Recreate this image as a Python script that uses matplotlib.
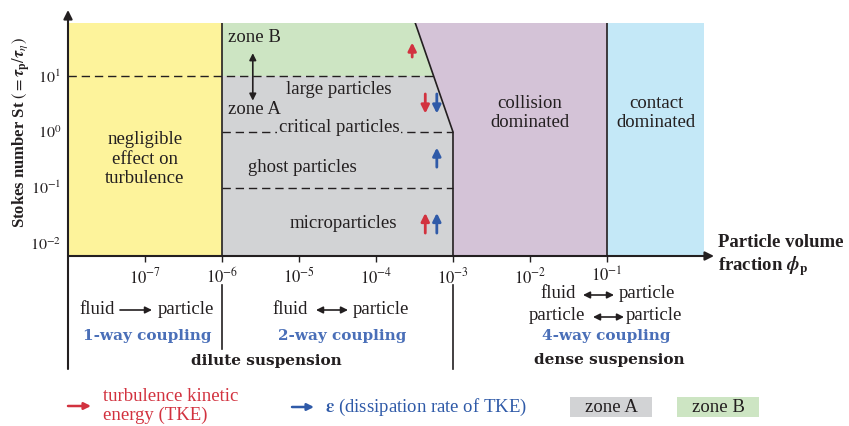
import numpy as np
import matplotlib.pyplot as plt
from matplotlib.patches import Rectangle
from matplotlib.transforms import blended_transform_factory

plt.rcParams['font.family'] = ['Liberation Serif', 'DejaVu Serif']
plt.rcParams['mathtext.fontset'] = 'stix'

# axis ranges (particle volume fraction, Stokes number)
phi_min, phi_max = 1e-8, 10 ** 0.26
st_min, st_max = 10 ** -2.22, 10 ** 1.95

# regime boundaries
phi_oneway = 1e-6        # 1-way / 2-way coupling
phi_slant_top = 10 ** -3.49
phi_dense = 1e-3         # dilute / dense
phi_contact = 1e-1       # collision / contact
st_zone = 10.0           # zone A / zone B
st_critical = 1.0
st_ghost = 0.1

phi_ticks = [1e-7, 1e-6, 1e-5, 1e-4, 1e-3, 1e-2, 1e-1]
phi_labels = [r'$10^{-7}$', r'$10^{-6}$', r'$10^{-5}$', r'$10^{-4}$',
              r'$10^{-3}$', r'$10^{-2}$', r'$10^{-1}$']
st_ticks = [1e-2, 1e-1, 1e0, 1e1]
st_labels = [r'$10^{-2}$', r'$10^{-1}$', r'$10^{0}$', r'$10^{1}$']

# effect arrows: (phi, St start, St end, colour)
effect_arrows = [
    (10 ** -3.53, 10 ** 1.34, 10 ** 1.60, 'red'),
    (10 ** -3.36, 10 ** 0.68, 10 ** 0.33, 'red'),
    (10 ** -3.21, 10 ** 0.68, 10 ** 0.33, 'blue'),
    (10 ** -3.21, 10 ** -0.63, 10 ** -0.28, 'blue'),
    (10 ** -3.36, 10 ** -1.81, 10 ** -1.45, 'red'),
    (10 ** -3.21, 10 ** -1.81, 10 ** -1.45, 'blue'),
]

c_yellow = '#fdf39b'
c_green = '#cde5c3'
c_grey = '#d2d3d5'
c_purple = '#d4c3d7'
c_cyan = '#c4e8f7'
c_red = '#d2323f'
c_blue = '#2f5aa8'
c_txtblue = '#4a6fb8'
c_dark = '#231f20'

W, H = 849, 426
fig = plt.figure(figsize=(W / 100, H / 100), dpi=100)


def fp(x, y):
    return x / W, 1 - y / H


ax = fig.add_axes([68 / W, 1 - 256 / H, (704 - 68) / W, (256 - 23) / H])
ax.set_xscale('log')
ax.set_yscale('log')
ax.set_xlim(phi_min, phi_max)
ax.set_ylim(st_min, st_max)


def slant_phi(st):
    # straight line (in log space) between top of plot and critical St at phi_dense
    l0, l1 = np.log10(phi_slant_top), np.log10(phi_dense)
    s0, s1 = np.log10(st_max), np.log10(st_critical)
    return 10 ** (l0 + (np.log10(st) - s0) / (s1 - s0) * (l1 - l0))


phi_zone = slant_phi(st_zone)

ax.fill([phi_min, phi_oneway, phi_oneway, phi_min],
        [st_min, st_min, st_max, st_max], color=c_yellow, lw=0)
ax.fill([phi_oneway, phi_zone, phi_slant_top, phi_oneway],
        [st_zone, st_zone, st_max, st_max], color=c_green, lw=0)
ax.fill([phi_oneway, phi_dense, phi_dense, phi_zone, phi_oneway],
        [st_min, st_min, st_critical, st_zone, st_zone], color=c_grey, lw=0)
ax.fill([phi_slant_top, phi_contact, phi_contact, phi_dense, phi_dense],
        [st_max, st_max, st_min, st_min, st_critical], color=c_purple, lw=0)
ax.fill([phi_contact, phi_max, phi_max, phi_contact],
        [st_min, st_min, st_max, st_max], color=c_cyan, lw=0)

# boundaries
ax.plot([phi_oneway, phi_oneway], [st_min, st_max], color=c_dark, lw=1.2)
ax.plot([phi_slant_top, phi_dense, phi_dense], [st_max, st_critical, st_min],
        color=c_dark, lw=1.2)
ax.plot([phi_contact, phi_contact], [st_min, st_max], color=c_dark, lw=1.2)
dash = dict(color=c_dark, lw=1.0, dashes=(6, 3.5))
ax.plot([phi_min, phi_zone], [st_zone, st_zone], **dash)
ax.plot([phi_oneway, phi_dense], [st_critical, st_critical], **dash)
ax.plot([phi_oneway, phi_dense], [st_ghost, st_ghost], **dash)

for phi, s0, s1, c in effect_arrows:
    col = c_red if c == 'red' else c_blue
    ax.annotate('', xy=(phi, s1), xytext=(phi, s0),
                arrowprops=dict(arrowstyle='-|>', color=col, lw=2.0,
                                mutation_scale=12, shrinkA=0, shrinkB=0))

# zone A/B double arrow
ax.annotate('', xy=(10 ** -5.60, 10 ** 1.41), xytext=(10 ** -5.60, 10 ** 0.56),
            arrowprops=dict(arrowstyle='<|-|>', color=c_dark, lw=1.2,
                            mutation_scale=10, shrinkA=0, shrinkB=0))

# axes with arrows
for s in ax.spines.values():
    s.set_visible(False)
ax.annotate('', xy=(0, (256 - 10) / 233), xytext=(0, (256 - 369) / 233),
            xycoords='axes fraction', textcoords='axes fraction', annotation_clip=False,
            arrowprops=dict(arrowstyle='-|>', color=c_dark, lw=1.5,
                            mutation_scale=13, shrinkA=0, shrinkB=0))
ax.annotate('', xy=((714 - 68) / 636, 0), xytext=(0, 0),
            xycoords='axes fraction', textcoords='axes fraction', annotation_clip=False,
            arrowprops=dict(arrowstyle='-|>', color=c_dark, lw=1.5,
                            mutation_scale=13, shrinkA=0, shrinkB=0))
tr = blended_transform_factory(ax.transData, ax.transAxes)
ax.plot([phi_oneway, phi_oneway], [(256 - 285) / 233, (256 - 349) / 233],
        transform=tr, color=c_dark, lw=1.2, clip_on=False)
ax.plot([phi_dense, phi_dense], [(256 - 285) / 233, (256 - 369) / 233],
        transform=tr, color=c_dark, lw=1.2, clip_on=False)

ax.minorticks_off()
ax.set_xticks(phi_ticks, phi_labels)
ax.set_yticks(st_ticks, st_labels)
ax.tick_params(axis='x', direction='out', length=4, width=1, pad=4,
               labelsize=12, colors=c_dark)
ax.tick_params(axis='y', length=0, pad=5, labelsize=11.5, colors=c_dark)

# labels inside the map
fs = 13.5
tk = dict(color=c_dark, fontsize=fs, ha='center', va='center')
fig.text(*fp(145, 159), 'negligible\neffect on\nturbulence', linespacing=1.2, **tk)
fig.text(*fp(228, 38), 'zone B', color=c_dark, fontsize=fs, ha='left', va='center')
fig.text(*fp(228, 110), 'zone A', color=c_dark, fontsize=fs, ha='left', va='center')
fig.text(*fp(339, 89), 'large particles', **tk)
fig.text(*fp(339, 128), 'critical particles',
         bbox=dict(facecolor=c_grey, edgecolor='none', pad=1.5), **tk)
fig.text(*fp(302, 168), 'ghost particles', **tk)
fig.text(*fp(343, 223), 'microparticles', **tk)
fig.text(*fp(530, 113), 'collision\ndominated', linespacing=1.2, **tk)
fig.text(*fp(656, 113), 'contact\ndominated', linespacing=1.2, **tk)

# axis titles
fig.text(*fp(21, 133), r'Stokes number St $(=\boldsymbol{\tau}_\mathbf{p}/\boldsymbol{\tau}_\eta)$',
         rotation=90, ha='center', va='center', fontsize=12, fontweight='bold', color=c_dark)
fig.text(*fp(718, 256), 'Particle volume\nfraction ' + r'$\boldsymbol{\phi}_\mathbf{p}$',
         ha='left', va='center', fontsize=13.5, fontweight='bold', color=c_dark,
         linespacing=1.2)

# coupling annotations below axis
for x, y, s in [(97, 309, 'fluid'), (186, 309, 'particle'),
                (290, 309, 'fluid'), (381, 309, 'particle'),
                (558, 294, 'fluid'), (647, 294, 'particle'),
                (557, 316, 'particle'), (654, 316, 'particle')]:
    fig.text(*fp(x, y), s, ha='center', va='center', fontsize=fs, color=c_dark)


def harrow(x0, x1, y, style, color=c_dark, lw=1.2, ms=10):
    plt.annotate('', xy=fp(x1, y), xytext=fp(x0, y), xycoords='figure fraction',
                 textcoords='figure fraction',
                 arrowprops=dict(arrowstyle=style, color=color, lw=lw,
                                 mutation_scale=ms, shrinkA=0, shrinkB=0))


harrow(120, 152, 310, '-|>')
harrow(316, 348, 310, '<|-|>')
harrow(583, 614, 295, '<|-|>')
harrow(593, 624, 317, '<|-|>')

bk = dict(ha='center', va='center', fontsize=11, fontweight='bold',
          family='DejaVu Serif')
fig.text(*fp(147, 336), '1-way coupling', color=c_txtblue, **bk)
fig.text(*fp(342, 336), '2-way coupling', color=c_txtblue, **bk)
fig.text(*fp(606, 336), '4-way coupling', color=c_txtblue, **bk)
fig.text(*fp(266, 361), 'dilute suspension', color=c_dark, **bk)
fig.text(*fp(609, 360), 'dense suspension', color=c_dark, **bk)

# legend row
harrow(68, 91, 406, '-|>', color=c_red, lw=1.8, ms=10)
fig.text(*fp(103, 406), 'turbulence kinetic\nenergy (TKE)', ha='left', va='center',
         fontsize=fs, color=c_red, linespacing=1.15)
harrow(292, 314, 407, '-|>', color=c_blue, lw=1.8, ms=10)
fig.text(*fp(325, 407), r'$\boldsymbol{\varepsilon}$ (dissipation rate of TKE)',
         ha='left', va='center', fontsize=fs, color=c_blue)
for x0, x1, col, lab in [(570, 652, c_grey, 'zone A'), (677, 759, c_green, 'zone B')]:
    fig.add_artist(Rectangle(fp(x0, 417), (x1 - x0) / W, 20 / H,
                             transform=fig.transFigure, facecolor=col, edgecolor='none'))
    fig.text(*fp((x0 + x1) / 2, 407), lab, ha='center', va='center',
             fontsize=fs, color=c_dark)

fig.savefig('out.png', dpi=100)
